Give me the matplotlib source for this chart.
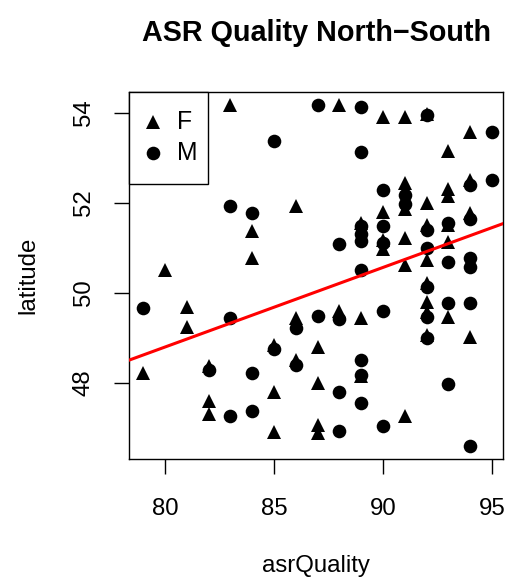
import numpy as np
import matplotlib
matplotlib.use("Agg")
import matplotlib.pyplot as plt
from matplotlib.patches import Rectangle

plt.rcParams['font.family'] = ['Liberation Sans', 'DejaVu Sans']

# asrQuality / latitude for the female speakers (triangles)
f_quality = [79, 80, 81, 81, 82, 82, 82, 83, 84, 84, 85, 85, 85,
             86, 86, 86, 87, 87, 87, 87, 88, 88, 89, 89, 89,
             90, 90, 90, 90, 91, 91, 91, 91, 91, 91,
             92, 92, 92, 92, 92, 92, 92, 92,
             93, 93, 93, 93, 93, 93, 94, 94, 94, 94]
f_latitude = [48.21, 50.50, 49.69, 49.24, 48.36, 47.58, 47.30, 54.17, 51.36, 50.76, 48.84, 47.80, 46.91,
              51.93, 49.43, 48.50, 48.80, 48.00, 47.06, 46.88, 54.17, 49.58, 51.54, 49.43, 48.15,
              53.91, 51.80, 51.17, 50.98, 53.91, 52.43, 51.85, 51.21, 50.62, 47.26,
              53.97, 51.99, 51.50, 50.73, 50.22, 49.79, 49.56, 49.05,
              53.15, 52.30, 52.15, 51.50, 51.13, 49.45, 53.58, 52.50, 51.76, 49.02]

# asrQuality / latitude for the male speakers (circles)
m_quality = [79, 82, 83, 83, 83, 84, 84, 84, 85, 85, 86, 86,
             87, 87, 88, 88, 88, 88,
             89, 89, 89, 89, 89, 89, 89, 89, 89,
             90, 90, 90, 90, 90, 91, 91,
             92, 92, 92, 92, 92, 92,
             93, 93, 93, 93, 94, 94, 94, 94, 94, 94, 95, 95]
m_latitude = [49.65, 48.27, 51.93, 49.43, 47.26, 51.78, 48.21, 47.36, 53.36, 48.75, 49.22, 48.38,
              54.16, 49.48, 51.08, 49.41, 47.78, 46.93,
              54.13, 53.12, 51.47, 51.30, 51.15, 50.50, 48.50, 48.17, 47.54,
              52.28, 51.47, 51.10, 49.58, 47.03, 52.17, 51.98,
              53.95, 51.39, 50.99, 50.13, 49.45, 49.00,
              51.55, 50.69, 49.77, 47.97, 52.39, 51.63, 50.76, 50.56, 49.77, 46.60, 53.58, 52.50]

# lm(latitude ~ asrQuality) coefficients
fit_intercept = 34.63
fit_slope = 0.177

x_ticks = [80, 85, 90, 95]
y_ticks = [48, 50, 52, 54]
legend_labels = ['F', 'M']

W, H = 507, 579
fig = plt.figure(figsize=(W / 100, H / 100), dpi=100)
ax = fig.add_axes([129.3 / W, 1 - 459 / H, (503 - 129.3) / W, (459 - 92) / H])

ms = 9.8
ax.plot(f_quality, f_latitude, linestyle='none', marker='^', color='black',
        markersize=ms + 0.4, markeredgewidth=0)
ax.plot(m_quality, m_latitude, linestyle='none', marker='o', color='black',
        markersize=ms, markeredgewidth=0)

# regression line on top of the points
ax.axline((0, fit_intercept), slope=fit_slope, color='red', linewidth=2.2, zorder=5)

ax.set_xlim(78.36, 95.5)
ax.set_ylim(46.30, 54.46)
ax.set_xticks(x_ticks)
ax.set_yticks(y_ticks)
ax.tick_params(axis='both', direction='out', length=11, width=1, labelsize=17.3)
ax.tick_params(axis='x', pad=17)
ax.tick_params(axis='y', pad=14)
for lab in ax.get_yticklabels():
    lab.set_rotation(90)
    lab.set_va('center')
for sp in ax.spines.values():
    sp.set_linewidth(1)

# legend drawn by hand, like R's legend("topleft", ...)
def px(x, y):
    return x / W, 1 - y / H

fig.patches.append(Rectangle(px(129.3, 184), (208 - 129.3) / W, (184 - 92) / H,
                             transform=fig.transFigure, facecolor='white',
                             edgecolor='black', linewidth=1, zorder=6))
for (mk, size), lab, yy in zip([('^', ms + 0.4), ('o', ms)], legend_labels, [122, 153.3]):
    fig.add_artist(plt.Line2D([152.7 / W], [1 - yy / H], transform=fig.transFigure,
                              linestyle='none', marker=mk, color='black',
                              markersize=size, markeredgewidth=0, zorder=7))
    fig.text(176.7 / W, 1 - yy / H, lab, ha='left', va='center', fontsize=17.8, zorder=7)

# titles placed by pixel position
fig.text(316 / W, 1 - 33 / H, 'ASR Quality North\u2212South', ha='center', va='center',
         fontsize=20.7, fontweight='bold')
fig.text(316 / W, 1 - 566 / H, 'asrQuality', ha='center', va='center', fontsize=17.3)
fig.text(28 / W, 1 - 275 / H, 'latitude', ha='center', va='center', fontsize=17.3, rotation=90)

fig.savefig('out.png', dpi=100)
